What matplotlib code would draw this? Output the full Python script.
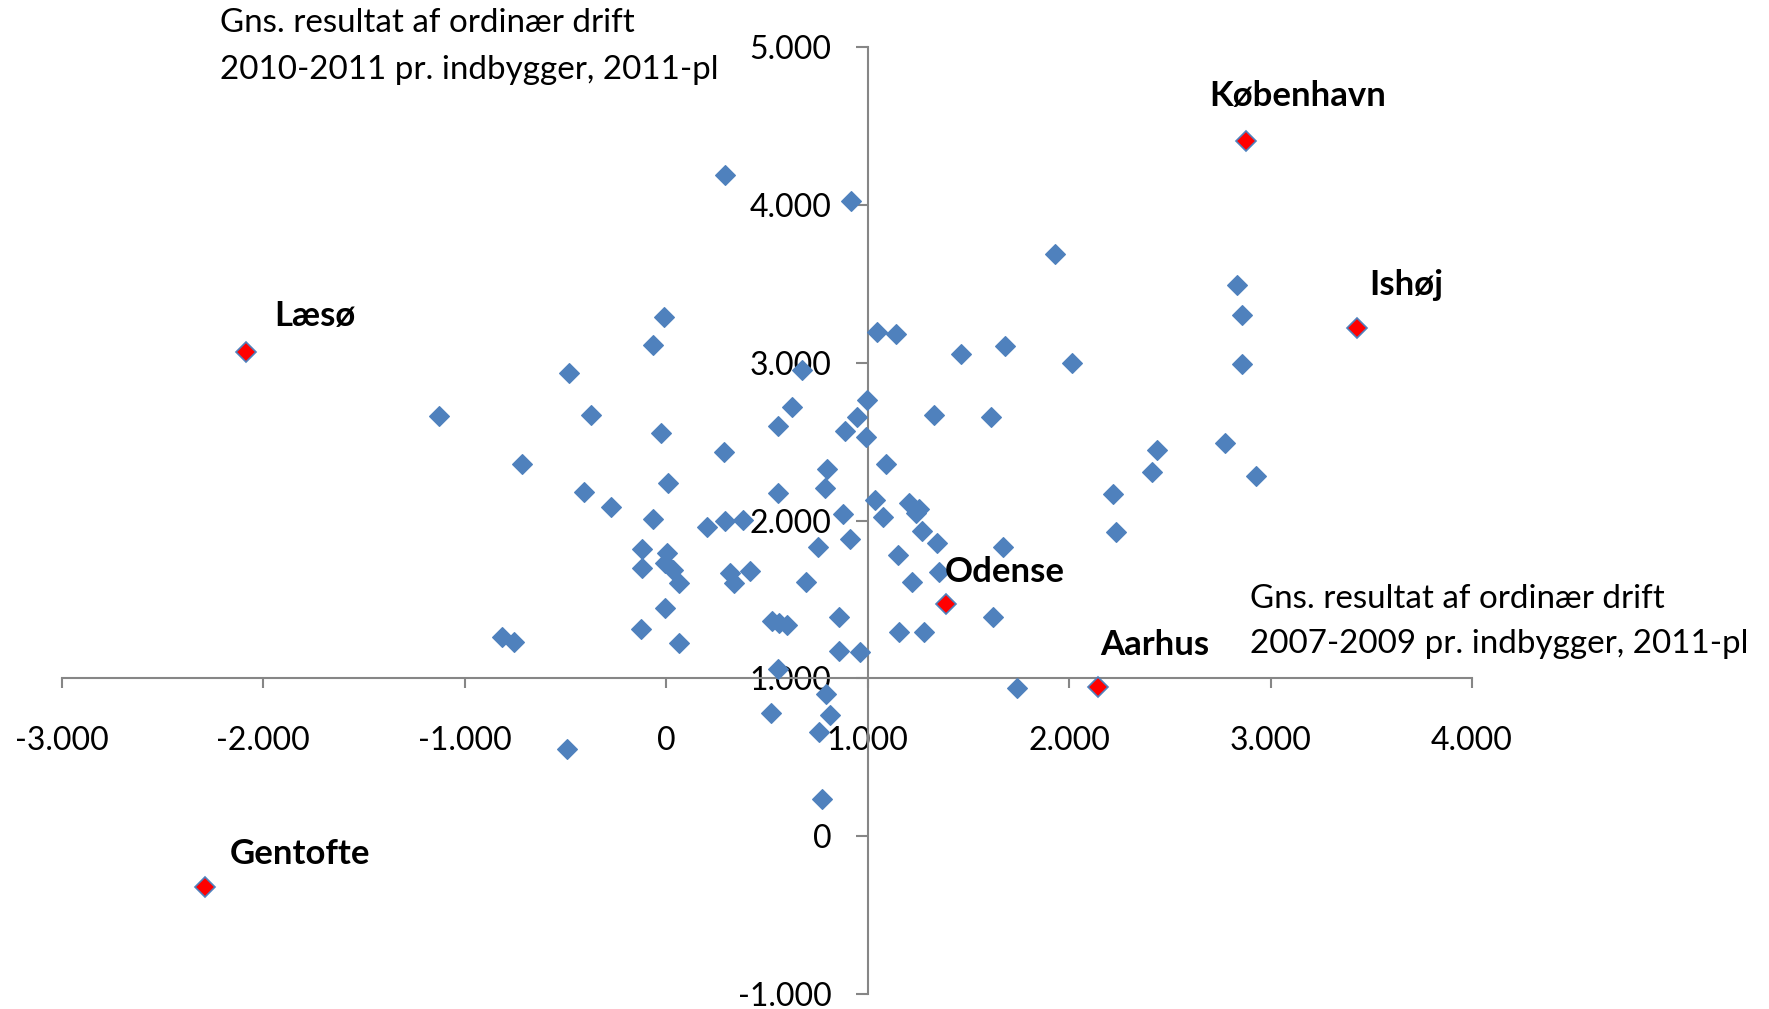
import matplotlib
matplotlib.use('Agg')
import matplotlib.pyplot as plt
from matplotlib.ticker import FuncFormatter, MultipleLocator

# gns. resultat 2007-2009 (x) og 2010-2011 (y), kr. pr. indbygger
blue_x = [293, 915, 1929, 2831, 2859, -10, 1044, 1139, -65, 1682,
          1464, 2013, 2859, 674, -485, 999, 624, 949, -1130, -373,
          1330, 1610, 557, 887, -26, 993, 2775, 288, 2438, -715,
          1089, 798, 2410, 2926, 7, -406, 557, 786, 2220, 1038,
          1206, -272, 1257, 1240, 876, 1077, -65, 383, 293, 204,
          -122, 5, -7, 35, -122, 63, -7, 1268, 912, 1342,
          1670, 752, 1149, 316, 416, 336, 1355, 1221, 693, 2231,
          -817, -756, -125, 63, -492, 523, 561, 598, 859, 1155,
          1281, 1623, 857, 962, 556, 793, 520, 813, 758, 771, 1739]
blue_y = [4192, 4027, 3691, 3491, 3305, 3291, 3198, 3184, 3112, 3105,
          3055, 2998, 2991, 2955, 2933, 2762, 2719, 2654, 2662, 2669,
          2669, 2654, 2597, 2569, 2554, 2533, 2490, 2433, 2447, 2361,
          2361, 2325, 2311, 2283, 2240, 2182, 2175, 2204, 2168, 2132,
          2111, 2089, 2075, 2047, 2039, 2025, 2011, 2004, 1997, 1961,
          1820, 1793, 1729, 1687, 1701, 1602, 1443, 1936, 1883, 1856,
          1831, 1835, 1782, 1665, 1683, 1602, 1676, 1612, 1612, 1929,
          1260, 1228, 1311, 1222, 550, 1366, 1349, 1338, 1391, 1296,
          1296, 1391, 1176, 1169, 1057, 899, 782, 767, 661, 233, 937]

red_names = ["København", "Ishøj", "Læsø", "Odense", "Aarhus", "Gentofte"]
red_x = [2880, 3429, -2087, 1390, 2141, -2289]
red_y = [4407, 3220, 3069, 1474, 943, -321]

x_title = ["Gns. resultat af ordinær drift", "2007-2009 pr. indbygger, 2011-pl"]
y_title = ["Gns. resultat af ordinær drift", "2010-2011 pr. indbygger, 2011-pl"]

# label offsets in pixels (dx, dy) from each red point
label_offsets = [(-37, 45), (12, 43), (28, 36), (-1, 32), (3, 42), (25, 33)]

plt.rcParams['font.family'] = ['Lato', 'DejaVu Sans']

fig = plt.figure(figsize=(17.69, 10.09), dpi=100)
ax = fig.add_axes([0.0350, 0.01506, 0.7971, 0.938])

blue = '#4F81BD'
ax.plot(blue_x, blue_y, 'D', color=blue, markersize=10, markeredgecolor=blue,
        markeredgewidth=0.8, zorder=3)
ax.plot(red_x, red_y, 'D', color='red', markersize=10, markeredgecolor=blue,
        markeredgewidth=1.2, zorder=4)

for name, x, y, off in zip(red_names, red_x, red_y, label_offsets):
    ax.annotate(name, (x, y), xytext=off, textcoords='offset pixels',
                ha='left', va='center', fontsize=25, fontweight='bold')

ax.set_xlim(-3000, 4000)
ax.set_ylim(-1000, 5000)
ax.xaxis.set_major_locator(MultipleLocator(1000))
ax.yaxis.set_major_locator(MultipleLocator(1000))
fmt = FuncFormatter(lambda v, p: f"{v:,.0f}".replace(",", ".").replace("\u2212", "-"))
ax.xaxis.set_major_formatter(fmt)
ax.yaxis.set_major_formatter(fmt)

for side in ['top', 'right']:
    ax.spines[side].set_visible(False)
ax.spines['left'].set_position(('data', 1000))
ax.spines['bottom'].set_position(('data', 1000))
for side in ['left', 'bottom']:
    ax.spines[side].set_color('#868686')
    ax.spines[side].set_linewidth(1.5)

ax.tick_params(axis='x', direction='out', length=7, width=1.5, color='#868686',
               labelsize=23, pad=27)
ax.tick_params(axis='y', direction='out', length=9, width=1.5, color='#868686',
               labelsize=23, pad=17)

fig.text(220 / 1769, 1 - 23 / 1009, y_title[0], fontsize=23.9, va='center', ha='left')
fig.text(220 / 1769, 1 - 70 / 1009, y_title[1], fontsize=23.9, va='center', ha='left')
fig.text(1250 / 1769, 1 - 599 / 1009, x_title[0], fontsize=23.9, va='center', ha='left')
fig.text(1250 / 1769, 1 - 644 / 1009, x_title[1], fontsize=23.9, va='center', ha='left')

fig.savefig('out.png', dpi=100, facecolor='white')
